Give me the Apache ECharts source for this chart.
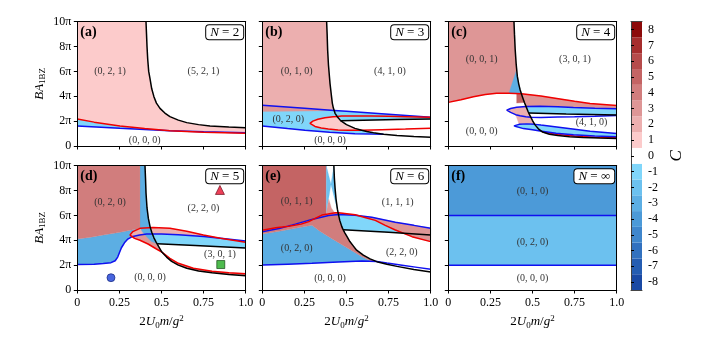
<!DOCTYPE html>
<html>
<head>
<meta charset="utf-8">
<script src="https://cdn.jsdelivr.net/npm/echarts@6/dist/echarts.min.js"></script>
<style>
  html, body { margin: 0; padding: 0; background: #fff; }
  #chart { width: 708px; height: 343px; }
</style>
</head>
<body>
<div id="chart"></div>
<script>
// ---------- axes ----------
const xTickLabels = ['0', '0.25', '0.5', '0.75', '1.0'];
const yTickLabels = ['0', '2π', '4π', '6π', '8π', '10π'];   // B·A_1BZ in units of π

// ---------- Chern-number colour scale ----------
const chernLevels = [-8, -7, -6, -5, -4, -3, -2, -1, 0, 1, 2, 3, 4, 5, 6, 7, 8];
const chernColors = ['#1a49a4', '#255db2', '#3271bf', '#3f86cc', '#4c9ad8', '#5caee3', '#6cc1ef', '#80d6fa',
                     '#ffffff',
                     '#fccbcb', '#ecafaf', '#de9696', '#d17d7d', '#c46464', '#b64b4b', '#a62d2d', '#8c0a0a'];

const panelLetters = ['(a)', '(b)', '(c)', '(d)', '(e)', '(f)'];
const panelN = ['2', '3', '4', '5', '6', '∞'];

// ---------- (a) N = 2 ----------
const aBlack = [[0.408,10],[0.411,9],[0.414,8],[0.418,7],[0.424,6],[0.432,5.4],[0.442,4.6],[0.455,3.97],[0.47,3.45],[0.491,3.03],[0.52,2.65],[0.55,2.36],[0.6,2.08],[0.65,1.88],[0.72,1.72],[0.788,1.61],[0.9,1.52],[1,1.47]];
const aRed = [[0,2.17],[0.1,1.92],[0.253,1.61],[0.4,1.4],[0.55,1.23],[0.75,1.1],[1,1.02]];
const aBlue = [[0,1.61],[0.253,1.42],[0.4,1.32],[0.55,1.23],[0.75,1.15],[1,1.07]];
const aLabels = [[0.194,5.98,'(0, 2, 1)'],[0.749,5.98,'(5, 2, 1)'],[0.40,0.48,'(0, 0, 0)']];

// ---------- (b) N = 3 ----------
const bBlack = [[0.382,10],[0.385,9],[0.388,7.72],[0.393,6.5],[0.402,5.04],[0.41,4.1],[0.416,3.43],[0.422,3.05],[0.427,2.86],[0.432,2.63],[0.444,2.38],[0.45,2.25],[0.465,2.04],[0.471,1.96],[0.5,1.72],[0.55,1.42],[0.59,1.27],[0.62,1.17],[0.66,1.07],[0.72,0.95],[0.8,0.84],[0.9,0.76],[1,0.70]];
const bBlueUp = [[0,3.27],[0.25,3.03],[0.427,2.86],[0.5,2.79],[0.75,2.55],[1,2.31]];
const bBlueLow = [[0,1.61],[0.15,1.4],[0.253,1.26],[0.4,1.1],[0.55,0.99],[0.65,0.96],[0.72,0.95]];
const bStep = [[0.465,2.04],[0.6,2.08],[0.8,2.13],[1,2.17]];
const bRedTop = [[0.283,1.82],[0.3,2.0],[0.33,2.15],[0.372,2.28],[0.42,2.36],[0.444,2.38],[0.471,2.41],[0.55,2.42],[0.65,2.41],[0.75,2.39],[0.848,2.36],[1,2.31]];
const bRedBot = [[0.283,1.82],[0.29,1.7],[0.313,1.57],[0.35,1.45],[0.392,1.36],[0.45,1.29],[0.511,1.26],[0.59,1.27],[0.709,1.31],[0.85,1.36],[1,1.42]];
const bStripLow = [[0.427,2.86],[0.3,2.82],[0,2.78]];
const bLabels = [[0.204,5.98,'(0, 1, 0)'],[0.758,5.98,'(4, 1, 0)'],[0.154,2.14,'(0, 2, 0)'],[0.402,0.48,'(0, 0, 0)']];

// ---------- (c) N = 4 ----------
const cBlack = [[0.39,10],[0.393,9],[0.397,7.8],[0.403,6.6],[0.41,5.6],[0.418,5.0],[0.426,4.55],[0.434,4.2],[0.443,3.85],[0.452,3.5],[0.462,3.17],[0.473,2.8],[0.478,2.65],[0.483,2.5],[0.49,2.32],[0.5,2.05],[0.515,1.7],[0.535,1.38],[0.56,1.12],[0.6,0.95],[0.65,0.84],[0.72,0.75],[0.8,0.69],[0.9,0.64],[1,0.6]];
const cRed = [[0,3.51],[0.075,3.72],[0.149,3.97],[0.22,4.15],[0.287,4.24],[0.36,4.25],[0.434,4.2],[0.55,4.02],[0.644,3.83],[0.75,3.6],[0.842,3.42],[1,3.25]];
const cRedLow = [[0.56,1.12],[0.65,0.93],[0.75,0.8],[0.87,0.71],[1,0.66]];
const cStep = [[0.478,2.65],[0.7,2.57],[1,2.49]];
const cLoop1Top = [[0.347,2.88],[0.37,3.02],[0.406,3.12],[0.462,3.17],[0.545,3.19],[0.65,3.15],[0.743,3.1],[0.87,3.04],[1,3.0]];
const cLoop1Bot = [[0.347,2.88],[0.37,2.7],[0.4,2.52],[0.426,2.43],[0.46,2.36],[0.49,2.32],[0.55,2.3],[0.65,2.33],[0.75,2.36],[0.87,2.4],[1,2.45]];
const cLoop2Top = [[0.39,1.62],[0.42,1.74],[0.465,1.78],[0.515,1.74],[0.55,1.68],[0.644,1.53],[0.75,1.35],[0.842,1.18],[1,1.0]];
const cLoop2Bot = [[0.39,1.62],[0.4,1.5],[0.446,1.4],[0.5,1.3],[0.545,1.2],[0.64,1.02],[0.743,0.9],[0.87,0.8],[1,0.74]];
const cSpikeTip = [[0.402,6.0]];
const cSpikeBase = [[0.36,4.25]];
const cNotchLeft = [[0.406,3.45],[0.406,4.23]];
const cMidLeft = [[0.42,1.74],[0.4,2.52]];
const cLabels = [[0.198,6.97,'(0, 0, 1)'],[0.752,6.97,'(3, 0, 1)'],[0.851,1.88,'(4, 1, 0)'],[0.198,1.15,'(0, 0, 0)']];

// ---------- (d) N = 5 ----------
const dBlack = [[0.402,10],[0.405,9],[0.408,7.8],[0.414,6.6],[0.422,5.76],[0.432,5.1],[0.442,4.65],[0.447,4.5],[0.455,4.2],[0.468,3.85],[0.474,3.72],[0.485,3.45],[0.502,3.05],[0.53,2.65],[0.56,2.3],[0.6,2.0],[0.65,1.75],[0.72,1.53],[0.8,1.38],[0.9,1.25],[1,1.15]];
const dBlue = [[0,2.06],[0.1,2.08],[0.154,2.14],[0.2,2.2],[0.225,2.35],[0.24,2.65],[0.25,3.0],[0.262,3.4],[0.28,3.8],[0.3,4.1],[0.323,4.28],[0.37,4.42],[0.412,4.5],[0.447,4.5],[0.5,4.5],[0.6,4.45],[0.75,4.3],[0.85,4.17],[1,3.95]];
const dStep = [[0.474,3.72],[0.7,3.58],[1,3.38]];
const dRedTop = [[0.313,4.42],[0.33,4.7],[0.372,4.96],[0.45,5.02],[0.55,4.96],[0.65,4.72],[0.749,4.42],[0.85,4.17],[1,3.85]];
const dRedBot = [[0.313,4.42],[0.34,4.15],[0.372,4.0],[0.42,3.7],[0.47,3.3],[0.502,3.05],[0.55,2.55],[0.6,2.15],[0.689,1.75],[0.8,1.5],[0.9,1.38],[1,1.3]];
const dEdge = [[0,4.10],[0.08,4.25],[0.154,4.42],[0.253,4.64],[0.352,4.9],[0.372,4.96]];
const dStripLeft = [[0.44,3.9],[0.41,4.3],[0.385,4.7],[0.372,5.05]];
const dMarkers = [[0.2,0.99],[0.847,8.05],[0.852,2.05]];
const dLabels = [[0.194,7.05,'(0, 2, 0)'],[0.749,6.57,'(2, 2, 0)'],[0.847,2.9,'(3, 0, 1)'],[0.432,0.99,'(0, 0, 0)']];

// ---------- (e) N = 6 ----------
const eBlack = [[0.425,10],[0.428,9],[0.432,8.2],[0.438,7.3],[0.446,6.5],[0.45,6.22],[0.452,6.08],[0.46,5.6],[0.472,5.1],[0.48,4.85],[0.49,4.6],[0.505,4.25],[0.52,3.9],[0.54,3.55],[0.56,3.2],[0.6,2.8],[0.64,2.5],[0.68,2.28],[0.74,2.07],[0.8,1.9],[0.9,1.65],[1,1.44]];
const eBlueUp = [[0,4.69],[0.1,4.95],[0.196,5.3],[0.3,5.7],[0.394,6.0],[0.452,6.08],[0.55,6.02],[0.65,5.85],[0.79,5.45],[0.9,5.2],[1,4.96]];
const eRed = [[0,4.8],[0.08,5.0],[0.157,5.12],[0.23,5.3],[0.276,5.5],[0.32,5.8],[0.354,6.03],[0.434,6.22],[0.452,6.22],[0.552,6.05],[0.62,5.8],[0.671,5.6],[0.73,5.2],[0.79,4.83],[0.889,4.29],[1,3.89]];
const eStep = [[0.48,4.85],[0.75,4.65],[1,4.42]];
const eBlueLow = [[0,2.01],[0.15,2.08],[0.295,2.15],[0.45,2.25],[0.592,2.33],[0.68,2.3],[0.74,2.17],[0.83,2.0],[0.92,1.82],[1,1.66]];
const eUpperEdge = [[0,4.8],[0.1,5.04],[0.196,5.3],[0.276,5.62],[0.32,5.8],[0.354,6.03],[0.38,6.1],[0.434,6.22],[0.45,6.22]];
const eCyanEdge = [[0,4.5],[0.1,4.72],[0.196,4.96],[0.295,5.2],[0.34,4.75],[0.394,4.29],[0.493,3.48],[0.592,2.68],[0.651,2.3]];
const eStripLeft = [[0.38,6.15],[0.38,10]];
const eSpike = [[0.395,7.3],[0.41,6.6],[0.43,6.22],[0.38,6.15],[0.385,6.6]];
const eLabels = [[0.204,7.1,'(0, 1, 1)'],[0.804,7.05,'(1, 1, 1)'],[0.204,3.35,'(0, 2, 0)'],[0.828,3.03,'(2, 2, 0)'],[0.402,0.94,'(0, 0, 0)']];

// ---------- (f) N = ∞ ----------
const fBlueUp = [[0,6],[1,6]];
const fBlueLow = [[0,2],[1,2]];
const fLabels = [[0.5,7.95,'(0, 1, 0)'],[0.5,3.87,'(0, 2, 0)'],[0.5,0.93,'(0, 0, 0)']];

// ---------- helpers ----------
const C = n => chernColors[chernLevels.indexOf(n)];
const upTo = (pts, x) => pts.filter(p => p[0] <= x);
const from = (pts, x) => pts.filter(p => p[0] >= x);
const between = (pts, x0, x1) => pts.filter(p => p[0] >= x0 && p[0] <= x1);
const rev = pts => pts.slice().reverse();
const RED = '#f00000', BLUE = '#1010f0', BLACK = '#000000';

// ---------- region polygons ----------
const panels = [
  { // (a)
    fills: [
      [[[0,10], ...aBlack, [1,1.02], ...rev(aRed)], C(1)],
      [[...upTo(aRed,0.55), ...rev(upTo(aBlue,0.4))], C(-1)]
    ],
    lines: [[aBlue, BLUE], [aRed, RED], [aBlack, BLACK]],
    labels: aLabels
  },
  { // (b)
    fills: [
      [[...bBlueUp, [1,2.17], ...rev(bStep), ...between(bBlack,0.466,0.72), ...rev(upTo(bBlueLow,0.65))], C(-1)],
      [[[0,10], ...upTo(bBlack,0.427), ...rev(upTo(bBlueUp,0.25))], C(2)],
      [[...upTo(bBlueUp,0.427), ...bStripLow], C(3)],
      [[...upTo(bRedTop,0.444), ...between(bBlack,0.445,0.59), ...rev(between(bRedBot,0.29,0.58))], C(1)]
    ],
    lines: [[bBlueUp, BLUE], [bBlueLow, BLUE], [[...rev(bRedTop), ...bRedBot], RED], [bBlack, BLACK], [bStep, BLACK]],
    labels: bLabels
  },
  { // (c)
    fills: [
      [[[0,10], ...upTo(cBlack,0.434), ...rev(upTo(cRed,0.36))], C(3)],
      [[...from(cRed,0.434), [1,3.0], ...rev(between(cLoop1Top,0.463,0.87)), ...rev(between(cBlack,0.44,0.462))], C(3)],
      [[...cNotchLeft, ...between(cBlack,0.434,0.452)], C(5)],
      [[...cSpikeTip, ...between(cBlack,0.41,0.434), ...cSpikeBase], C(-3)],
      [[...upTo(cLoop1Top,0.462), ...between(cBlack,0.473,0.49), ...rev(upTo(cLoop1Bot,0.46))], C(2)],
      [[...from(cLoop1Top,0.462), [1,2.49], ...rev(cStep), [0.473,2.8]], C(-1)],
      [[...between(cLoop1Bot,0.4,0.49), ...between(cBlack,0.5,0.515), ...rev(between(cLoop2Top,0.42,0.465)), ...cMidLeft], C(2)],
      [[...cLoop2Top, ...rev(cLoop2Bot)], C(-1)]
    ],
    lines: [[cRed, RED], [cRedLow, RED], [[...rev(cLoop1Top), ...cLoop1Bot], BLUE], [[...rev(cLoop2Top), ...cLoop2Bot], BLUE], [cBlack, BLACK], [cStep, BLACK]],
    labels: cLabels
  },
  { // (d)
    fills: [
      [[...dEdge, [0.372,10], ...upTo(dBlack,0.447), ...rev(upTo(dBlue,0.412))], C(-3)],
      [[[0,10], [0.372,10], ...rev(dEdge)], C(4)],
      [[...from(dBlue,0.447), [1,3.38], ...rev(dStep), [0.468,3.85], [0.455,4.2]], C(-1)],
      [[...upTo(dRedTop,0.85), ...rev(between(dBlue,0.323,0.75))], C(2)],
      [[...between(dBlue,0.323,0.447), ...between(dBlack,0.455,0.502), ...rev(between(dRedBot,0.34,0.47))], C(3)],
      [[...from(dRedBot,0.502), [1,1.15], ...rev(between(dBlack,0.53,0.9))], C(3)],
      [[[0.372,5.05], ...between(dBlack,0.432,0.474), ...dStripLeft], C(-3)]
    ],
    lines: [[dBlue, BLUE], [[...rev(dRedTop), ...dRedBot], RED], [dBlack, BLACK], [dStep, BLACK]],
    labels: dLabels,
    markers: dMarkers
  },
  { // (e)
    fills: [
      [[...eCyanEdge, ...rev(upTo(eBlueLow,0.592))], C(-3)],
      [[...eUpperEdge, ...between(eBlack,0.452,0.68), ...rev(eCyanEdge)], C(4)],
      [[[0,10], ...rev(eStripLeft), ...rev(upTo(eUpperEdge,0.38))], C(5)],
      [[...rev(eStripLeft), ...upTo(eBlack,0.45)], C(-2)],
      [eSpike, C(3)],
      [[...from(eBlueUp,0.452), [1,4.42], ...rev(eStep), [0.472,5.1], [0.46,5.6]], C(-1)],
      [[...between(eRed,0.452,0.552), ...between(eBlueUp,0.56,1), [1,3.89], ...rev(between(eRed,0.62,0.889)), ...rev(between(eBlueUp,0.452,0.55))], C(3)]
    ],
    lines: [[eBlueLow, BLUE], [eBlueUp, BLUE], [eRed, RED], [eBlack, BLACK], [eStep, BLACK]],
    labels: eLabels
  },
  { // (f)
    fills: [
      [[...fBlueUp, [1,10], [0,10]], C(-4)],
      [[...fBlueLow, ...rev(fBlueUp)], C(-2)]
    ],
    lines: [[fBlueUp, BLUE], [fBlueLow, BLUE]],
    labels: fLabels
  }
];

// ---------- layout ----------
const COL_LEFT = [77.3, 262.3, 448.3];
const ROW_TOP = [21.7, 165.7];
const PW = 168.4, PH = 124.3;
const FONT = 'Liberation Serif';

const grids = [], xAxes = [], yAxes = [], series = [], graphics = [];

panels.forEach((p, i) => {
  const col = i % 3, row = Math.floor(i / 3);
  grids.push({ left: COL_LEFT[col], top: ROW_TOP[row], width: PW, height: PH });
});
grids.push({ left: 631, top: 21.7, width: 11, height: 268.3 }); // colour bar

const axisLine = { show: true, lineStyle: { color: '#000', width: 1 } };

panels.forEach((p, i) => {
  const col = i % 3, row = Math.floor(i / 3);
  xAxes.push({
    gridIndex: i, type: 'value', min: 0, max: 1, interval: 0.25, z: 10,
    axisLine, splitLine: { show: false },
    axisTick: { show: true, inside: false, length: 3.5, lineStyle: { color: '#000' } },
    axisLabel: { show: row === 1, margin: 7, fontFamily: FONT, fontSize: 12, color: '#000',
                 formatter: (v) => xTickLabels[Math.round(v / 0.25)] },
    name: row === 1 ? '2{i|U}{s|0}{i|m}/{i|g}{p|2}' : '',
    nameLocation: 'middle', nameGap: 24,
    nameTextStyle: { fontFamily: FONT, fontSize: 13, color: '#000', lineHeight: 16,
      rich: { i: { fontStyle: 'italic', fontFamily: FONT, fontSize: 13, lineHeight: 16 },
              s: { fontFamily: FONT, fontSize: 9, lineHeight: 9, verticalAlign: 'bottom' },
              p: { fontFamily: FONT, fontSize: 9, lineHeight: 9, verticalAlign: 'top' } } }
  });
  yAxes.push({
    gridIndex: i, type: 'value', min: 0, max: 10, interval: 2, z: 10,
    axisLine, splitLine: { show: false },
    axisTick: { show: true, inside: false, length: 3.5, lineStyle: { color: '#000' } },
    axisLabel: { show: col === 0, margin: 6, fontFamily: FONT, fontSize: 12, color: '#000',
                 formatter: (v) => yTickLabels[Math.round(v / 2)] },
    name: col === 0 ? '{i|BA}{s|1BZ}' : '',
    nameLocation: 'middle', nameGap: 30, nameRotate: 90,
    nameTextStyle: { fontFamily: FONT, fontSize: 13, color: '#000', lineHeight: 16,
      rich: { i: { fontStyle: 'italic', fontFamily: FONT, fontSize: 13, lineHeight: 16 },
              s: { fontFamily: FONT, fontSize: 9, lineHeight: 9, verticalAlign: 'bottom' } } }
  });
});

// colour bar axes (index 6)
xAxes.push({ gridIndex: 6, type: 'value', min: 0, max: 1, show: false });
yAxes.push({
  gridIndex: 6, type: 'category', position: 'right', data: chernLevels.map(String), z: 10,
  axisLine: { show: true, lineStyle: { color: '#444', width: 1 } },
  axisTick: { show: true, alignWithLabel: true, length: 3, lineStyle: { color: '#000' } },
  axisLabel: { margin: 6, fontFamily: FONT, fontSize: 12, color: '#000' },
  name: 'C', nameLocation: 'middle', nameGap: 26, nameRotate: 90,
  nameTextStyle: { fontFamily: FONT, fontSize: 17, fontStyle: 'italic', color: '#000' }
});

// frame lines on top/right of each panel, and the rest of the colour-bar outline
for (let g = 0; g < 7; g++) {
  xAxes.push({ gridIndex: g, type: 'value', position: 'top', min: 0, max: 1, z: 10,
    axisLine: { show: true, onZero: false, lineStyle: { color: g === 6 ? '#444' : '#000', width: 1 } },
    axisTick: { show: false }, axisLabel: { show: false }, splitLine: { show: false } });
}
xAxes.push({ gridIndex: 6, type: 'value', position: 'bottom', min: 0, max: 1, z: 10,
  axisLine: { show: true, onZero: false, lineStyle: { color: '#444', width: 1 } },
  axisTick: { show: false }, axisLabel: { show: false }, splitLine: { show: false } });
for (let g = 0; g < 6; g++) {
  yAxes.push({ gridIndex: g, type: 'value', position: 'right', min: 0, max: 10, z: 10,
    axisLine: { show: true, onZero: false, lineStyle: { color: '#000', width: 1 } },
    axisTick: { show: false }, axisLabel: { show: false }, splitLine: { show: false } });
}
yAxes.push({ gridIndex: 6, type: 'value', position: 'left', min: 0, max: 1, z: 10,
  axisLine: { show: true, onZero: false, lineStyle: { color: '#444', width: 1 } },
  axisTick: { show: false }, axisLabel: { show: false }, splitLine: { show: false } });

// ---------- series ----------
panels.forEach((p, i) => {
  // filled phase regions
  series.push({
    type: 'custom', coordinateSystem: 'cartesian2d', xAxisIndex: i, yAxisIndex: i,
    clip: true, silent: true, z: 2,
    data: p.fills.map(() => [0.5, 5]),
    renderItem: (params, api) => {
      const f = p.fills[params.dataIndex];
      return { type: 'polygon', shape: { points: f[0].map(pt => api.coord(pt)) },
               style: { fill: f[1], stroke: f[1], lineWidth: 0.3 } };
    }
  });
  // phase boundaries
  p.lines.forEach(([pts, color]) => {
    series.push({
      type: 'line', xAxisIndex: i, yAxisIndex: i, data: pts, showSymbol: false, silent: true,
      clip: true, z: 4, lineStyle: { color, width: 1.5 }
    });
  });
  // region labels
  series.push({
    type: 'custom', coordinateSystem: 'cartesian2d', xAxisIndex: i, yAxisIndex: i,
    silent: true, z: 6,
    data: p.labels.map(l => [l[0], l[1]]),
    renderItem: (params, api) => {
      const pt = api.coord([api.value(0), api.value(1)]);
      return { type: 'text', x: pt[0], y: pt[1],
        style: { text: p.labels[params.dataIndex][2], fontFamily: FONT, fontSize: 10,
                 fill: '#333', align: 'center', verticalAlign: 'middle' } };
    }
  });
});

// sample points in (d)
const markerSymbols = ['circle', 'triangle', 'rect'];
const markerFill = ['#1a3fd6', '#e8102e', '#22aa22'];
const markerEdge = ['#0a1a70', '#600010', '#0a3a0a'];
const markerSize = [8, 9, 8];
series.push({
  type: 'scatter', xAxisIndex: 3, yAxisIndex: 3, z: 7, silent: true,
  data: dMarkers.map((m, k) => ({ value: m, symbol: markerSymbols[k], symbolSize: markerSize[k],
    itemStyle: { color: markerFill[k], borderColor: markerEdge[k], borderWidth: 0.8 } }))
});

// colour bar
series.push({
  type: 'bar', xAxisIndex: 6, yAxisIndex: 6, barCategoryGap: '0%', silent: true, z: 2,
  data: chernColors.map(c => ({ value: 1, itemStyle: { color: c } }))
});

// ---------- panel tags ----------
panels.forEach((p, i) => {
  const col = i % 3, row = Math.floor(i / 3);
  const L = COL_LEFT[col], T = ROW_TOP[row];
  graphics.push({
    type: 'text', x: L + 3, y: T + 4, z: 20,
    style: { text: panelLetters[i], fontFamily: FONT, fontSize: 14, fontWeight: 'bold', fill: '#000' }
  });
  graphics.push({
    type: 'text', x: L + PW - 2.5, y: T + 3.5, z: 20,
    style: {
      text: '{i|N} = ' + panelN[i], align: 'right', verticalAlign: 'top',
      fontFamily: FONT, fontSize: 13, fill: '#000',
      backgroundColor: '#fff', borderColor: '#000', borderWidth: 1, borderRadius: 3,
      padding: [1, 4, 0, 4],
      rich: { i: { fontStyle: 'italic', fontFamily: FONT, fontSize: 13 } }
    }
  });
});

const chart = echarts.init(document.getElementById('chart'), null, { renderer: 'canvas' });
chart.setOption({
  animation: false,
  backgroundColor: '#fff',
  grid: grids,
  xAxis: xAxes,
  yAxis: yAxes,
  series,
  graphic: graphics
});
</script>
</body>
</html>
